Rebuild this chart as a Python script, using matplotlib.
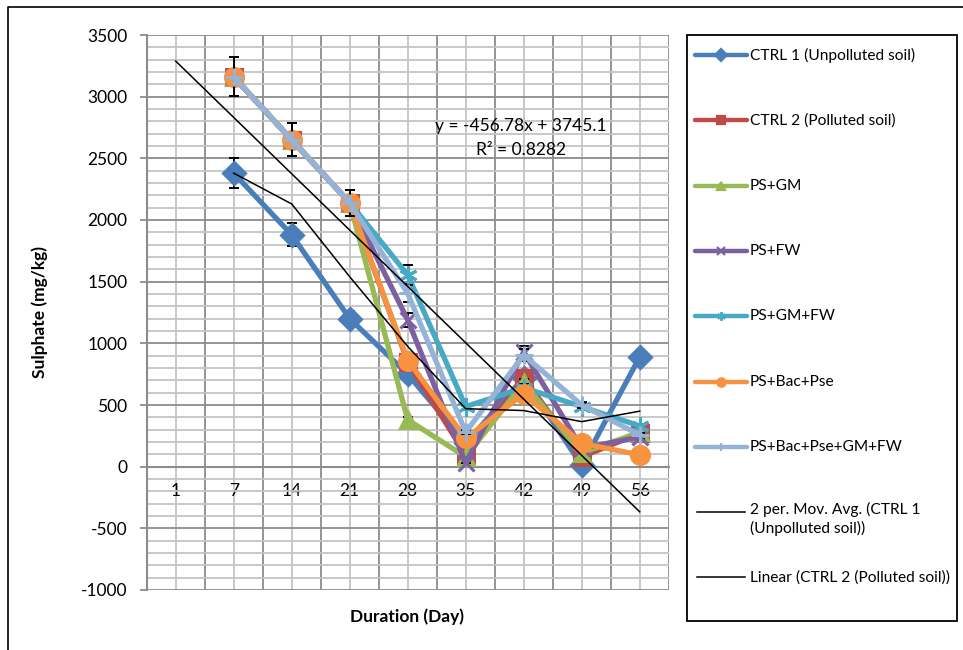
import numpy as np
import pandas as pd
import matplotlib
matplotlib.use("Agg")
import matplotlib.pyplot as plt
from matplotlib.lines import Line2D
from matplotlib.patches import Rectangle
from matplotlib.ticker import MultipleLocator

nan = np.nan

# category axis (days); day 1 has no measurements
days = ["1", "7", "14", "21", "28", "35", "42", "49", "56"]

ctrl1 = [nan, 2380, 1880, 1200, 750, 190, 720, 10, 890]
ctrl2 = [nan, 3160, 2650, 2140, 850, 95, 720, 80, 270]
ps_gm = [nan, 3160, 2650, 2140, 380, 80, 680, 110, 280]
ps_fw = [nan, 3160, 2650, 2140, 1190, 30, 930, 150, 240]
ps_gm_fw = [nan, 3160, 2650, 2140, 1555, 487, 640, 487, 330]
ps_bac_pse = [nan, 3160, 2650, 2140, 860, 230, 590, 190, 95]
ps_all = [nan, 3160, 2650, 2140, 1405, 280, 905, 500, 258]

labels = ["CTRL 1 (Unpolluted soil)", "CTRL 2 (Polluted soil)", "PS+GM", "PS+FW",
          "PS+GM+FW", "PS+Bac+Pse", "PS+Bac+Pse+GM+FW"]
ma_label = "2 per. Mov. Avg. (CTRL 1\n(Unpolluted soil))"
trend_label = "Linear (CTRL 2 (Polluted soil))"

# linear trendline of CTRL 2 as reported on the chart
trend_slope = -456.78
trend_intercept = 3745.1
trend_r2 = 0.8282
err_pct = 0.05  # percentage error bars

colors = ["#4A7EBB", "#BE4B48", "#98B954", "#7D60A0", "#46AAC5", "#F69240", "#95B3D7"]
markers = ["D", "s", "^", "x", (6, 2, 0), "o", "+"]
msizes = [11, 11, 12, 11, 13, 13, 13]

plt.rcParams['font.family'] = ['Lato', 'DejaVu Sans']
plt.rcParams['axes.unicode_minus'] = False

W, H = 963, 650
fig = plt.figure(figsize=(W / 100, H / 100), dpi=100)


def fx(x):
    return x / W


def fy(y):
    return 1 - y / H


ax = fig.add_axes([fx(146.7), fy(590), 522 / W, 555 / H])
x = np.arange(1, len(days) + 1)

series = [ctrl1, ctrl2, ps_gm, ps_fw, ps_gm_fw, ps_bac_pse, ps_all]
for i, vals in enumerate(series):
    v = np.array(vals, float)
    ax.errorbar(x, v, yerr=v * err_pct, fmt='none', ecolor='black', elinewidth=1.4,
                capsize=3.8, capthick=1.4, zorder=3 + 2 * i)
    ax.plot(x, v, color=colors[i], lw=3.8, marker=markers[i], ms=msizes[i],
            mec=colors[i], mew=2.2, zorder=4 + 2 * i)

ma = pd.Series(ctrl1).rolling(2, min_periods=1).mean()
ax.plot(x, ma, color='black', lw=1.1, zorder=30)
ax.plot(x, trend_slope * x + trend_intercept, color='black', lw=1.1, zorder=30)

ax.text(6.95, 2763, f"y = {trend_slope:.2f}x + {trend_intercept:.1f}", ha='center',
        va='center', fontsize=12.5, zorder=31)
ax.text(6.95, 2569, f"R² = {trend_r2:.4f}", ha='center', va='center', fontsize=12.5, zorder=31)

ax.set_xlim(0.5, 9.5)
ax.set_ylim(-1000, 3500)
ax.set_xticks(x)
ax.set_xticklabels(days)
ax.set_xticks(np.arange(1.5, 10, 1), minor=True)
ax.yaxis.set_major_locator(MultipleLocator(500))
ax.yaxis.set_minor_locator(MultipleLocator(100))

dark, light = '#8C8C8C', '#C4C4C4'
ax.grid(which='major', axis='x', color=light, lw=1.3)
ax.grid(which='minor', axis='x', color=dark, lw=1.3)
ax.grid(which='major', axis='y', color=dark, lw=1.3)
ax.grid(which='minor', axis='y', color=light, lw=1.3)
ax.set_axisbelow(True)

for s in ['top', 'right']:
    ax.spines[s].set_visible(False)
ax.spines['bottom'].set_position(('data', 0))
ax.spines['bottom'].set_color(dark)
ax.spines['bottom'].set_linewidth(1.5)
ax.spines['left'].set_color(dark)
ax.spines['left'].set_linewidth(1.5)

ax.tick_params(axis='x', which='both', length=0, pad=12, labelsize=12.5)
ax.tick_params(axis='y', which='major', length=5, width=1.3, color=dark, pad=9, labelsize=12.5)
ax.tick_params(axis='y', which='minor', length=0)

fig.text(fx(40), fy(312), "Sulphate (mg/kg)", rotation=90, ha='center', va='center',
         fontsize=12.5, fontweight='bold')
fig.text(fx(407), fy(617), "Duration (Day)", ha='center', va='center',
         fontsize=12.5, fontweight='bold')

# chart area border (left and top edges visible)
fig.add_artist(Line2D([fx(8), fx(8), 1], [0, fy(7), fy(7)], transform=fig.transFigure,
                      color='black', lw=1.2))

# legend drawn in figure pixels
fig.add_artist(Rectangle((fx(687), fy(621)), 270 / W, 586 / H, transform=fig.transFigure,
                         fill=False, ec='black', lw=1.3))
y0, step = 55, 65.3
leg_fs = 11.2
for i, lab in enumerate(labels):
    y = y0 + i * step
    fig.add_artist(Line2D([fx(695), fx(747)], [fy(y), fy(y)], transform=fig.transFigure,
                          color=colors[i], lw=3.2, solid_capstyle='round'))
    fig.add_artist(Line2D([fx(721)], [fy(y)], transform=fig.transFigure, color=colors[i],
                          marker=markers[i], ms=6, mew=1.6, mec=colors[i]))
    fig.text(fx(750), fy(y), lab, va='center', ha='left', fontsize=leg_fs)

for j, lab in enumerate([ma_label, trend_label]):
    y = y0 + (len(labels) + j) * step
    fig.add_artist(Line2D([fx(697), fx(745)], [fy(y), fy(y)], transform=fig.transFigure,
                          color='black', lw=1.1))
    if "\n" in lab:
        fig.text(fx(750), fy(y - 10), lab, va='top', ha='left', fontsize=leg_fs, linespacing=1.35)
    else:
        fig.text(fx(750), fy(y), lab, va='center', ha='left', fontsize=leg_fs)

fig.savefig("out.png", dpi=100)
